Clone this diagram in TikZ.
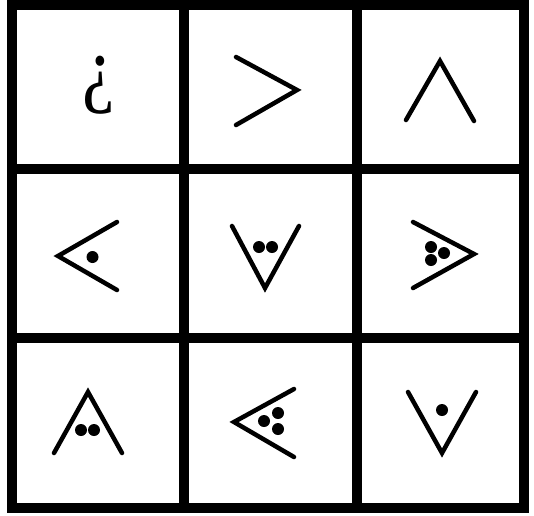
\documentclass[tikz,border=0pt]{standalone}
\usepackage{fontspec}
\setmainfont{Liberation Serif}
\begin{document}
\begin{tikzpicture}[x=1pt,y=-1pt,
  gridline/.style={line width=10pt,line cap=rect},
  chev/.style={line width=4.5pt,line cap=round,line join=miter},
  dot/.style={fill=black,draw=none},
  glyph/.style={inner sep=0pt,font=\fontsize{86}{90}\selectfont}]
\useasboundingbox (0,0) rectangle (534,515);
\fill[white] (0,0) rectangle (534,515);
% grid
\draw[gridline] (12,5) rectangle (524,508);
\draw[gridline] (184,5) -- (184,508);
\draw[gridline] (357,5) -- (357,508);
\draw[gridline] (12,169) -- (524,169);
\draw[gridline] (12,338) -- (524,338);
% row 1
\node[glyph] (q) at (99,85.5) {\scalebox{0.85}[1]{¿}};
\draw[chev] (236,57) -- (297,90) -- (236,125);
\draw[chev] (406,120) -- (440,61) -- (474,121);
% row 2
\draw[chev] (117,222) -- (58,256) -- (117,290);
\fill[dot] (92.5,257) circle (6);
\draw[chev] (232,226) -- (265,288) -- (299,226);
\fill[dot] (259,247) circle (6);
\fill[dot] (272,247) circle (6);
\draw[chev] (413,222) -- (474,254) -- (413,288);
\fill[dot] (431,247) circle (6);
\fill[dot] (444,253) circle (6);
\fill[dot] (431,260) circle (6);
% row 3
\draw[chev] (54,453) -- (88,392) -- (122,453);
\fill[dot] (81,430) circle (6);
\fill[dot] (94,430) circle (6);
\draw[chev] (294,389) -- (234,422) -- (294,457);
\fill[dot] (264,421) circle (6);
\fill[dot] (278,413) circle (6);
\fill[dot] (278,429) circle (6);
\draw[chev] (408,392) -- (442,453) -- (476,392);
\fill[dot] (442,410) circle (6);
\end{tikzpicture}
\end{document}
